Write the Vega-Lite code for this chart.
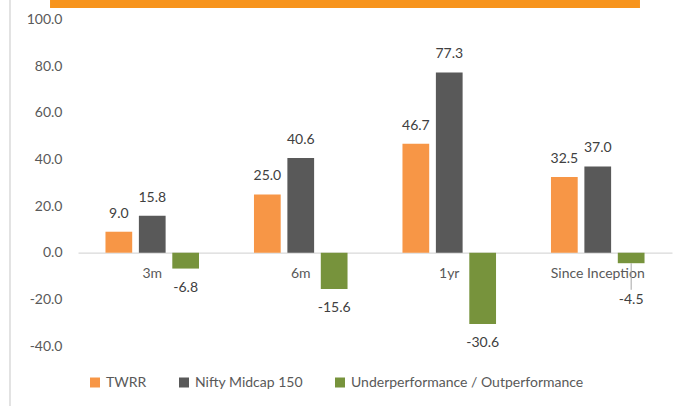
{
  "$schema": "https://vega.github.io/schema/vega-lite/v6.json",
  "autosize": "none",
  "width": 594,
  "height": 326.5,
  "padding": {"left": 78, "top": 19.5, "right": 14, "bottom": 60},
  "background": "white",
  "config": {
    "view": {"stroke": null},
    "font": "Lato",
    "locale": {"number": {"decimal": ".", "thousands": ",", "grouping": [3], "currency": ["", ""], "minus": "-"}}
  },
  "datasets": {
    "perf": [
      {"period": "3m", "series": "TWRR", "value": 9.0},
      {"period": "3m", "series": "Nifty Midcap 150", "value": 15.8},
      {"period": "3m", "series": "Underperformance / Outperformance", "value": -6.8},
      {"period": "6m", "series": "TWRR", "value": 25.0},
      {"period": "6m", "series": "Nifty Midcap 150", "value": 40.6},
      {"period": "6m", "series": "Underperformance / Outperformance", "value": -15.6},
      {"period": "1yr", "series": "TWRR", "value": 46.7},
      {"period": "1yr", "series": "Nifty Midcap 150", "value": 77.3},
      {"period": "1yr", "series": "Underperformance / Outperformance", "value": -30.6},
      {"period": "Since Inception", "series": "TWRR", "value": 32.5},
      {"period": "Since Inception", "series": "Nifty Midcap 150", "value": 37.0},
      {"period": "Since Inception", "series": "Underperformance / Outperformance", "value": -4.5}
    ]
  },
  "resolve": {"scale": {"x": "independent"}},
  "layer": [
    {
      "data": {"values": [{}]},
      "mark": {"type": "rect", "color": "#F7941D"},
      "encoding": {
        "x": {"datum": -0.0471, "type": "quantitative", "scale": {"domain": [0, 1], "nice": false, "zero": false}, "axis": null},
        "x2": {"datum": 0.9461},
        "y": {"datum": 108.4, "type": "quantitative"},
        "y2": {"datum": 104.9}
      }
    },
    {
      "data": {"values": [{}]},
      "mark": {"type": "rule", "color": "#D9D9D9", "strokeWidth": 1.5},
      "encoding": {
        "x": {"datum": -0.1145, "type": "quantitative", "scale": {"domain": [0, 1], "nice": false, "zero": false}, "axis": null},
        "y": {"datum": 108.4, "type": "quantitative"},
        "y2": {"datum": -66}
      }
    },
    {
      "data": {"name": "perf"},
      "encoding": {
        "x": {
          "field": "period", "type": "nominal",
          "sort": ["3m", "6m", "1yr", "Since Inception"],
          "scale": {"paddingInner": 0.37, "paddingOuter": 0.185},
          "axis": {"title": null, "orient": "bottom", "offset": -93.3, "ticks": false, "labelAngle": 0, "labelPadding": 14, "domainColor": "#D9D9D9", "domainWidth": 1.3, "labelColor": "#595959", "labelFontSize": 14, "labelFont": "Lato"}
        },
        "xOffset": {
          "field": "series", "type": "nominal",
          "sort": ["TWRR", "Nifty Midcap 150", "Underperformance / Outperformance"],
          "scale": {"paddingInner": 0.2, "paddingOuter": 0}
        },
        "y": {
          "field": "value", "type": "quantitative",
          "scale": {"domain": [-40, 100], "nice": false, "zero": false},
          "axis": {"title": null, "values": [-40, -20, 0, 20, 40, 60, 80, 100], "format": ".1f", "grid": false, "ticks": false, "domain": false, "labelPadding": 16, "labelColor": "#595959", "labelFontSize": 14, "labelFont": "Lato"}
        }
      },
      "layer": [
        {
          "mark": {"type": "bar"},
          "encoding": {
            "color": {
              "field": "series", "type": "nominal",
              "sort": ["TWRR", "Nifty Midcap 150", "Underperformance / Outperformance"],
              "scale": {"domain": ["TWRR", "Nifty Midcap 150", "Underperformance / Outperformance"], "range": ["#F79646", "#595959", "#77933C"]},
              "legend": {"title": null, "orient": "none", "legendX": 10, "legendY": 356, "direction": "horizontal", "symbolType": "square", "symbolSize": 100, "symbolStrokeWidth": 0, "labelFontSize": 14, "labelColor": "#595959", "labelFont": "Lato", "labelLimit": 400, "columnPadding": 30, "labelOffset": 4}
            }
          }
        },
        {
          "transform": [{"filter": "datum.value < 0 && datum.value > -6"}],
          "mark": {"type": "rule", "color": "#A6A6A6", "strokeWidth": 1},
          "encoding": {"y2": {"datum": -15.9}}
        },
        {
          "transform": [{"filter": "datum.value >= 0"}],
          "mark": {"type": "text", "baseline": "alphabetic", "dy": -14, "fontSize": 14, "color": "#404040"},
          "encoding": {"text": {"field": "value", "type": "quantitative", "format": ".1f"}}
        },
        {
          "transform": [
            {"filter": "datum.value < 0"},
            {"calculate": "datum.value > -6 ? -12 : datum.value", "as": "labelY"}
          ],
          "mark": {"type": "text", "baseline": "top", "dy": 12, "fontSize": 14, "color": "#404040"},
          "encoding": {
            "y": {"field": "labelY", "type": "quantitative"},
            "text": {"field": "value", "type": "quantitative", "format": ".1f"}
          }
        }
      ]
    }
  ]
}
